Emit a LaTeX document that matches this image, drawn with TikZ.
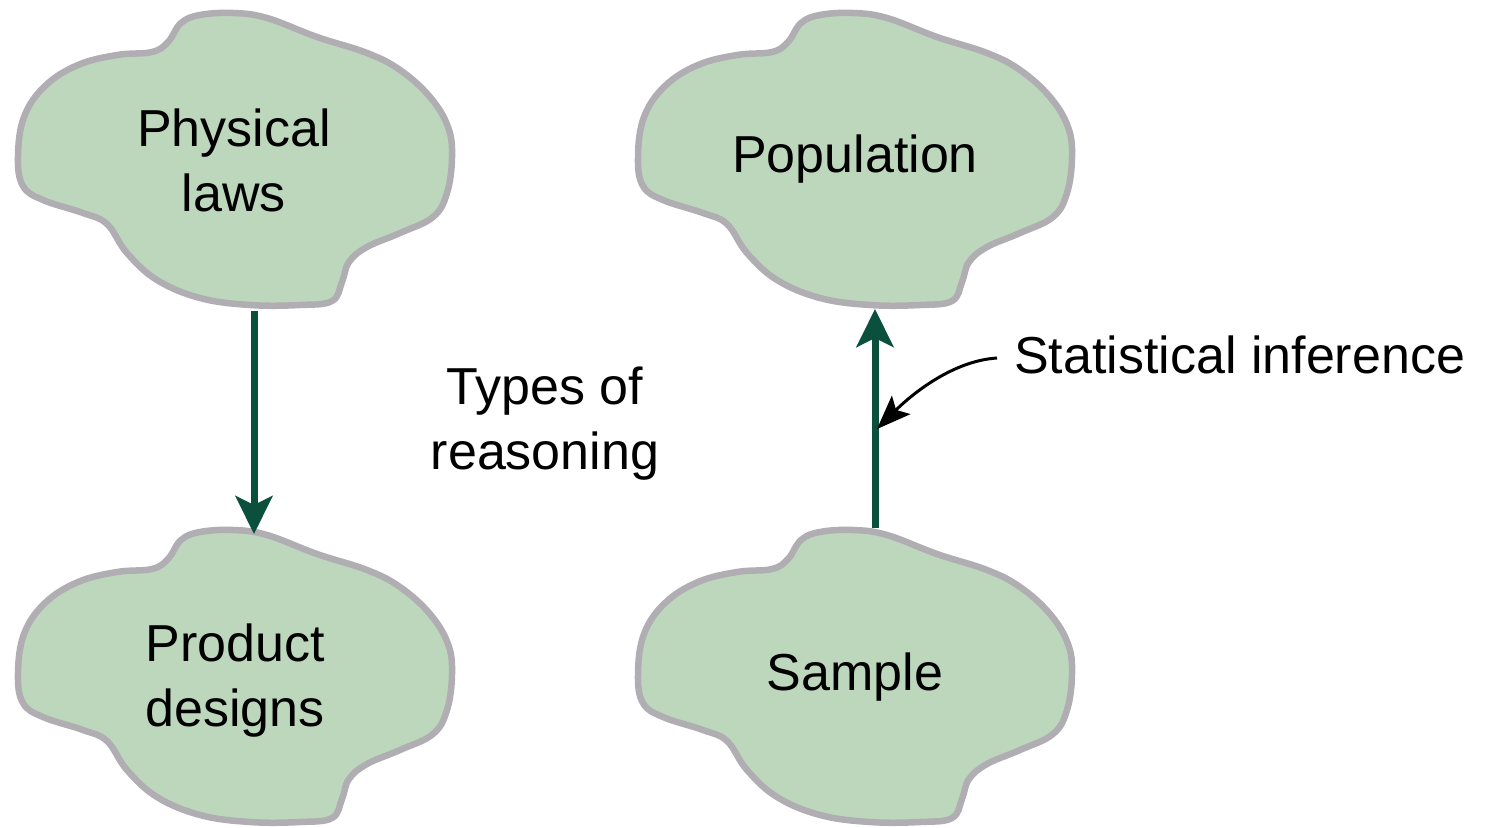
\documentclass[tikz,border=0pt]{standalone}
\usepackage{fontspec}
\setmainfont{Liberation Sans}
\usetikzlibrary{arrows.meta}

\definecolor{blobfill}{RGB}{189,215,189}
\definecolor{blobline}{RGB}{177,174,179}
\definecolor{flowgreen}{RGB}{10,80,60}

\tikzset{
  blob/.style={fill=blobfill, draw=blobline, line width=6.5pt},
  cloudblob/.pic={
    \path[blob] plot[smooth cycle, tension=0.65] coordinates {
      (200,15) (233,13) (267,18) (317,37) (367,53) (400,70) (430,97)
      (448,127) (452,157) (447,193) (433,217) (400,233) (367,247)
      (349,262) (342,282) (332,301) (300,305) (250,305) (200,298)
      (157,280) (127,253) (107,224) (83,213) (43,200) (23,186)
      (18,157) (24,117) (45,86) (78,65) (117,55) (152,52) (168,42)
      (181,23)};
  },
  label/.style={font=\fontsize{52}{65}\selectfont, align=center, inner sep=0pt},
  flow/.style={draw=flowgreen, line width=7pt,
    -{Stealth[length=38pt, width=37pt, inset=9pt]}},
  pointer/.style={draw=black, line width=3pt,
    -{Stealth[length=34pt, width=26pt, inset=7pt]}},
}

\begin{document}
\begin{tikzpicture}[x=1pt, y=-1pt]
  \useasboundingbox (0,0) rectangle (1488,827);

  % the four clouds
  \pic at (0,0)     {cloudblob};
  \pic at (0,517)   {cloudblob};
  \pic at (620,0)   {cloudblob};
  \pic at (620,517) {cloudblob};

  % texts inside the clouds
  \node[label] (laws)   at (234,160) {Physical\\laws};
  \node[label] (design) at (235,681) {Product\\designs};
  \node[label, anchor=base] (pop)    at (855,172) {Population};
  \node[label, anchor=base] (sample) at (855,690) {Sample};

  % free texts
  \node[label] (types) at (545,424) {Types of\\reasoning};
  \node[label, anchor=base west] (infer) at (1014,373) {Statistical inference};

  % cloud edges where the arrows meet
  \coordinate (laws-bot)   at (254,311);
  \coordinate (design-top) at (254,534);
  \coordinate (sample-top) at (875,528);
  \coordinate (pop-bot)    at (875,309);
  \coordinate (infer-tail) at (997,358);
  \coordinate (infer-tip)  at (877,429);

  % deductive and inductive arrows
  \draw[flow] (laws-bot) -- (design-top);
  \draw[flow] (sample-top) -- (pop-bot);

  % pointer from the label to the upward arrow
  \draw[pointer] (infer-tail) .. controls (950,361) and (908,398) .. (infer-tip);
\end{tikzpicture}
\end{document}
